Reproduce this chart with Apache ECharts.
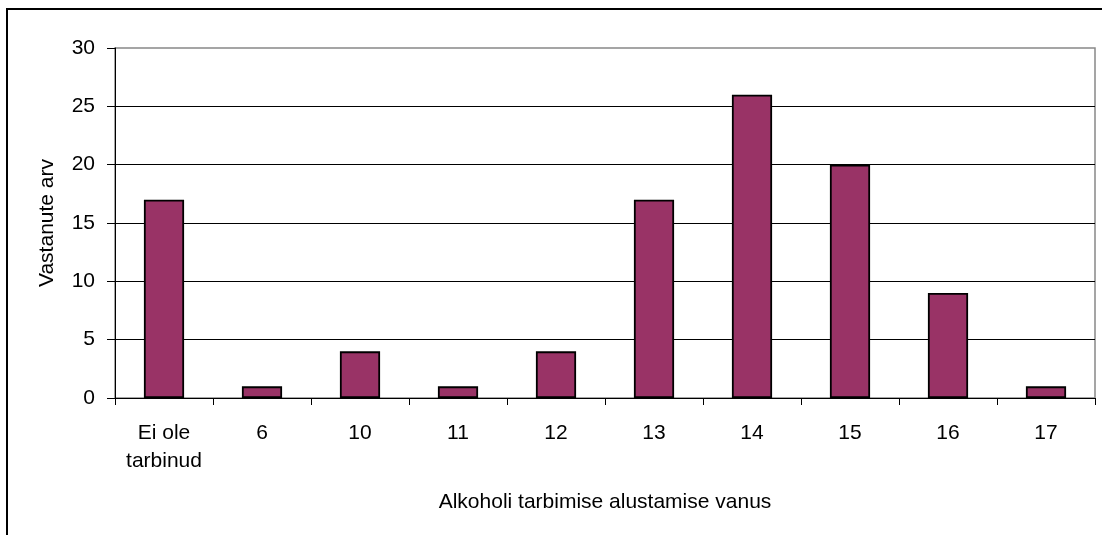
<!DOCTYPE html>
<html>
<head>
<meta charset="utf-8">
<script src="https://cdn.jsdelivr.net/npm/echarts@6/dist/echarts.min.js"></script>
<style>
html, body { margin: 0; padding: 0; background: #fff; }
#main { width: 1102px; height: 535px; }
</style>
</head>
<body>
<div id="main"></div>
<script>
var vanused = ['Ei ole\ntarbinud', '6', '10', '11', '12', '13', '14', '15', '16', '17'];
var vastanuid = [17, 1, 4, 1, 4, 17, 26, 20, 9, 1];
var yTicks = [0, 5, 10, 15, 20, 25, 30];

var myChart = echarts.init(document.getElementById('main'));
var font = 'Liberation Sans, Arial, sans-serif';
var option = {
	backgroundColor: '#fff',
	animation: false,
	graphic: [{
		type: 'rect',
		shape: { x: 7, y: 9, width: 1200, height: 600 },
		style: { fill: 'none', stroke: '#000', lineWidth: 2 },
		z: 100
	}],
	grid: {
		left: 115,
		right: 7,
		top: 48,
		bottom: 137,
		show: true,
		borderColor: '#888',
		borderWidth: 1.5
	},
	xAxis: {
		type: 'category',
		data: vanused,
		name: 'Alkoholi tarbimise alustamise vanus',
		nameLocation: 'middle',
		nameGap: 94,
		nameTextStyle: { fontFamily: font, fontSize: 21, color: '#000' },
		axisLine: { lineStyle: { color: '#000', width: 1 } },
		axisTick: { show: true, length: 7, alignWithLabel: false, lineStyle: { color: '#000' } },
		axisLabel: { fontFamily: font, fontSize: 21, color: '#000', margin: 21, lineHeight: 28, interval: 0 }
	},
	yAxis: {
		type: 'value',
		min: yTicks[0],
		max: yTicks[yTicks.length - 1],
		interval: 5,
		name: 'Vastanute arv',
		nameLocation: 'middle',
		nameGap: 57,
		nameTextStyle: { fontFamily: font, fontSize: 21, color: '#000' },
		axisLine: { show: true, lineStyle: { color: '#000', width: 1 } },
		axisTick: { show: true, length: 8, lineStyle: { color: '#000' } },
		axisLabel: { fontFamily: font, fontSize: 21, color: '#000', margin: 20 },
		splitLine: { show: true, showMaxLine: false, lineStyle: { color: '#000', width: 1 } }
	},
	series: [{
		type: 'bar',
		data: vastanuid,
		barWidth: '41%',
		itemStyle: { color: '#993366', borderColor: '#000', borderWidth: 1.8 }
	}]
};
myChart.setOption(option);
</script>
</body>
</html>
